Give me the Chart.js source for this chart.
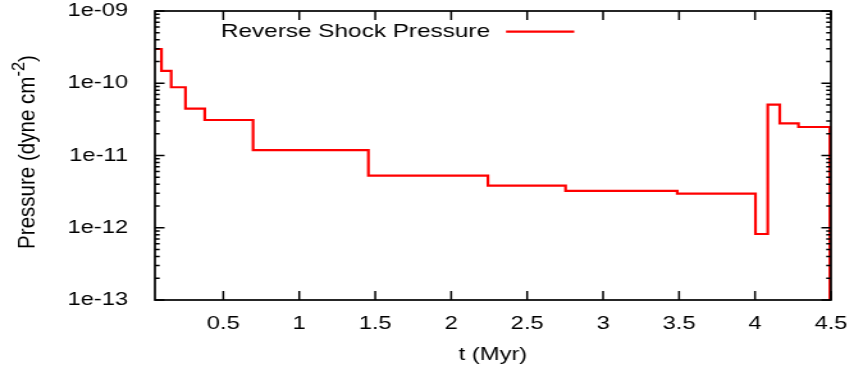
<!DOCTYPE html>
<html>
<head>
<meta charset="utf-8">
<script src="https://cdn.jsdelivr.net/npm/chart.js@4"></script>
<style>
html, body { margin: 0; padding: 0; background: #fff; }
</style>
</head>
<body>
<!-- drawn at 667px wide, shown stretched to 854px like the original picture -->
<canvas id="c" width="667" height="370" style="width:854px;height:370px;display:block"></canvas>
<script>
// step start times (Myr) and pressure held from each time on
const tVals = [0.03, 0.093, 0.157, 0.251, 0.378, 0.696, 1.455, 2.242, 2.753, 3.488, 4.003, 4.084, 4.163, 4.286, 4.493];
const pVals = [2.98e-10, 1.48e-10, 8.8e-11, 4.45e-11, 3.10e-11, 1.19e-11, 5.25e-12, 3.82e-12, 3.23e-12, 2.96e-12, 8.2e-13, 5.05e-11, 2.79e-11, 2.48e-11, 1e-14];
const seriesName = 'Reverse Shock Pressure';

const xTicks = [0.5, 1, 1.5, 2, 2.5, 3, 3.5, 4, 4.5];
const xTickLabels = ['0.5', '1', '1.5', '2', '2.5', '3', '3.5', '4', '4.5'];
const yTicks = [1e-13, 1e-12, 1e-11, 1e-10, 1e-9];
const yTickLabels = ['1e-13', '1e-12', '1e-11', '1e-10', '1e-09'];

const FONT = "'Liberation Sans', Arial, sans-serif";
const FS = 18.5;

// box, inward ticks, legend and y title (with the superscript)
const frame = {
    id: 'frame',
    afterDraw(chart) {
        const {ctx, chartArea: a, scales: {x, y}} = chart;
        ctx.save();
        ctx.strokeStyle = '#000';
        ctx.lineWidth = 1.7;
        ctx.strokeRect(a.left, a.top, a.right - a.left, a.bottom - a.top);

        ctx.lineWidth = 1.5;
        ctx.beginPath();
        xTicks.forEach(v => {
            const px = x.getPixelForValue(v);
            ctx.moveTo(px, a.bottom); ctx.lineTo(px, a.bottom - 9);
            ctx.moveTo(px, a.top); ctx.lineTo(px, a.top + 9);
        });
        for (let e = -13; e <= -9; e++) {
            for (let m = 1; m < 10; m++) {
                const v = m * Math.pow(10, e);
                if (v > 1.0001e-9) break;
                const py = y.getPixelForValue(v);
                const len = m === 1 ? 7.5 : 3.7;
                ctx.moveTo(a.left, py); ctx.lineTo(a.left + len, py);
                ctx.moveTo(a.right, py); ctx.lineTo(a.right - len, py);
            }
        }
        ctx.stroke();

        // legend: text then line sample
        const ly = 31.7;
        ctx.fillStyle = '#000';
        ctx.font = '19px ' + FONT;
        ctx.textAlign = 'right';
        ctx.textBaseline = 'middle';
        ctx.fillText(seriesName, 382.7, ly);
        ctx.strokeStyle = '#ff0000';
        ctx.lineWidth = 2.2;
        ctx.beginPath();
        ctx.moveTo(395.2, ly); ctx.lineTo(448.5, ly);
        ctx.stroke();

        // y axis title
        const main = 'Pressure (dyne cm', sup = '-2', close = ')';
        const supFont = (FS * 0.8) + 'px ' + FONT;
        ctx.font = FS + 'px ' + FONT;
        const w1 = ctx.measureText(main).width;
        const w3 = ctx.measureText(close).width;
        ctx.font = supFont;
        const w2 = ctx.measureText(sup).width;
        const total = w1 + w2 + w3;
        ctx.translate(21.9, 152);
        ctx.rotate(-Math.PI / 2);
        ctx.scale(1.11, 1);
        ctx.textAlign = 'left';
        let sx = -total / 2;
        ctx.font = FS + 'px ' + FONT;
        ctx.fillText(main, sx, 0);
        sx += w1;
        ctx.font = supFont;
        ctx.fillText(sup, sx, -7);
        sx += w2;
        ctx.font = FS + 'px ' + FONT;
        ctx.fillText(close, sx, 0);
        ctx.restore();
    }
};

// keep the plot box where the layout padding puts it
function noPad(s) {
    s.paddingLeft = 0; s.paddingRight = 0; s.paddingTop = 0; s.paddingBottom = 0;
}

new Chart(document.getElementById('c'), {
    type: 'line',
    data: {
        datasets: [{
            label: seriesName,
            data: tVals.map((t, i) => ({x: t, y: pVals[i]})),
            borderColor: '#ff0000',
            borderWidth: 2.2,
            pointRadius: 0,
            fill: false,
            stepped: true
        }]
    },
    options: {
        responsive: false,
        animation: false,
        devicePixelRatio: 1,
        events: [],
        layout: {padding: {top: 11, right: 18, bottom: 0, left: 0}},
        plugins: {legend: {display: false}, tooltip: {enabled: false}},
        scales: {
            x: {
                type: 'linear',
                min: 0.05,
                max: 4.5,
                grid: {display: false},
                border: {display: false},
                afterBuildTicks: s => { s.ticks = xTicks.map(v => ({value: v})); },
                afterFit: s => { s.height = 70; noPad(s); },
                ticks: {
                    autoSkip: false,
                    maxRotation: 0,
                    padding: 5,
                    color: '#000',
                    font: {family: FONT, size: FS},
                    callback: (v, i) => xTickLabels[i]
                },
                title: {
                    display: true,
                    text: 't (Myr)',
                    color: '#000',
                    font: {family: FONT, size: FS},
                    padding: {top: 0, bottom: 4}
                }
            },
            y: {
                type: 'logarithmic',
                min: 1e-13,
                max: 1e-9,
                grid: {display: false},
                border: {display: false},
                afterBuildTicks: s => { s.ticks = yTicks.map(v => ({value: v})); },
                afterFit: s => { s.width = 121; noPad(s); },
                ticks: {
                    autoSkip: false,
                    padding: 13,
                    color: '#000',
                    font: {family: FONT, size: FS, lineHeight: 1},
                    callback: (v, i) => yTickLabels[i]
                }
            }
        }
    },
    plugins: [frame]
});
</script>
</body>
</html>
